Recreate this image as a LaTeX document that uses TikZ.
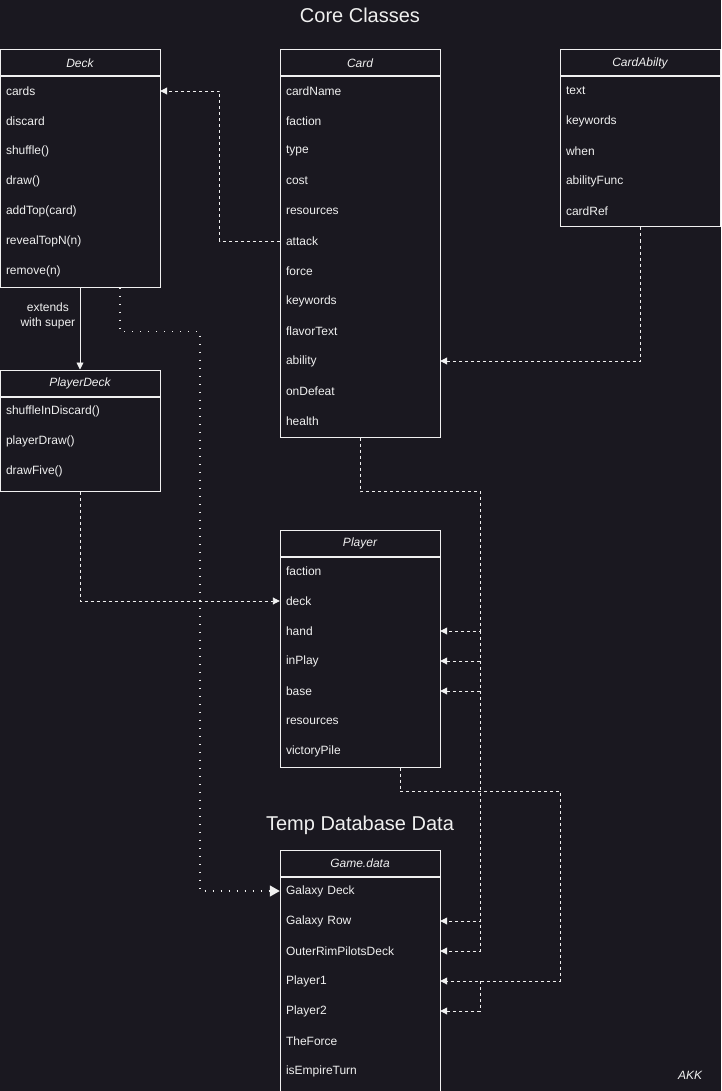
\documentclass[tikz,border=0pt]{standalone}
\usepackage{fontspec}
\setmainfont{Liberation Sans}
\usetikzlibrary{positioning,arrows.meta}

\definecolor{bg}{HTML}{1A1820}
\definecolor{fg}{HTML}{F0F0F0}

\tikzset{
  box/.style={draw=fg, line width=1pt, minimum width=160pt, inner sep=0pt},
  head/.style={box, minimum height=26pt, font=\fontsize{12}{14}\selectfont\itshape, text=fg},
  row/.style={text width=148pt, minimum height=30pt, inner xsep=6pt, inner ysep=0pt,
    align=left, font=\fontsize{12}{14}\selectfont, text=fg},
  title/.style={font=\fontsize{20}{24}\selectfont, text=fg},
  dep/.style={draw=fg, line width=0.9pt, dashed, -{Triangle[length=7pt,width=7pt]}},
  ext/.style={draw=fg, line width=0.9pt, -{Triangle[length=7pt,width=7pt]}},
  use/.style={draw=fg, line width=1.4pt, dash pattern=on 1.4pt off 6.6pt,
    -{Triangle[length=10pt,width=11pt]}}
}

\begin{document}
\begin{tikzpicture}[x=1pt, y=-1pt]
  % Background
  \fill[bg] (0,0) rectangle (721,1091);
  \useasboundingbox (0,0) rectangle (721,1091);

  % Titles
  \node[title] (core) at (360,15) {Core Classes};
  \node[title] (temp) at (360,825) {Temp Database Data};

  % Deck
  \node[head] (deck-h) at (80,63) {Deck};
  \node[box, minimum height=210pt, below=0pt of deck-h] (deck) {};
  \foreach \t [count=\i] in {cards, discard, shuffle(), draw(), addTop(card), revealTopN(n), remove(n)}
    \node[row] (deck-\i) at (80,61+30*\i) {\t};

  % Card
  \node[head] (card-h) at (360,63) {Card};
  \node[box, minimum height=360pt, below=0pt of card-h] (card) {};
  \foreach \t [count=\i] in {cardName, faction, type, cost, resources, attack, force, keywords, flavorText, ability, onDefeat, health}
    \node[row] (card-\i) at (360,61+30*\i) {\t};

  % CardAbilty
  \node[head] (abil-h) at (640,63) {CardAbilty};
  \node[box, minimum height=150pt, below=0pt of abil-h] (abil) {};
  \foreach \t [count=\i] in {text, keywords, when, abilityFunc, cardRef}
    \node[row] (abil-\i) at (640,61+30*\i) {\t};

  % PlayerDeck
  \node[head] (pdeck-h) at (80,383) {PlayerDeck};
  \node[box, minimum height=94pt, below=0pt of pdeck-h] (pdeck) {};
  \foreach \t [count=\i] in {shuffleInDiscard(), playerDraw(), drawFive()}
    \node[row] (pdeck-\i) at (80,381+30*\i) {\t};

  % Player
  \node[head] (player-h) at (360,543) {Player};
  \node[box, minimum height=210pt, below=0pt of player-h] (player) {};
  \foreach \t [count=\i] in {faction, deck, hand, inPlay, base, resources, victoryPile}
    \node[row] (player-\i) at (360,541+30*\i) {\t};

  % Game.data
  \node[head] (game-h) at (360,863) {Game.data};
  \node[box, minimum height=214pt, below=0pt of game-h] (game) {};
  \foreach \t [count=\i] in {Galaxy Deck, Galaxy Row, OuterRimPilotsDeck, Player1, Player2, TheForce, isEmpireTurn}
    \node[row] (game-\i) at (360,861+30*\i) {\t};

  % Signature
  \node[font=\fontsize{12}{14}\selectfont\itshape, text=fg] (akk) at (690,1075) {AKK};

  % Connectors
  \draw[dep] (card-6.west) -- ++(-60,0) |- (deck-1.east);
  \draw[dep] (abil.south) |- (card-10.east);
  \draw[ext] (deck.south) -- (pdeck-h.north)
    node[pos=0.35, left=1pt, align=center, font=\fontsize{12}{15}\selectfont, text=fg] {extends\\with super};
  \draw[use] ([xshift=40pt]deck.south) -- ++(0,44) -- ++(80,0) |- (game-1.west);
  \draw[dep] (pdeck.south) |- (player-2.west);

  % Card into Player and Game.data
  \coordinate (cbus) at ([xshift=40pt]player-3.east);
  \draw[dep] (card.south) -- ++(0,54) -| (cbus) -- (player-3.east);
  \foreach \n in {player-4, player-5, game-2, game-3}
    \draw[dep] (cbus) |- (\n.east);

  % Player into Game.data
  \coordinate (pbus) at ([xshift=40pt]game-4.east);
  \draw[dep] ([xshift=40pt]player.south) -- ++(0,24) -| ([xshift=120pt]game-4.east) -- (game-4.east);
  \draw[dep] (pbus) |- (game-5.east);
\end{tikzpicture}
\end{document}
